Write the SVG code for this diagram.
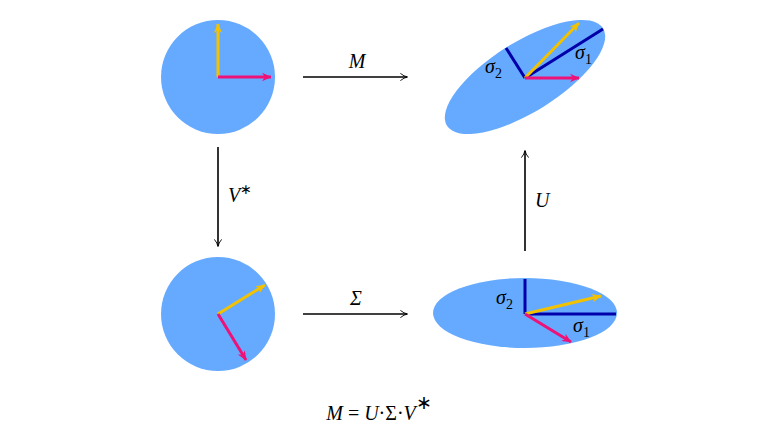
<svg xmlns="http://www.w3.org/2000/svg" width="758" height="427" viewBox="0 0 758 427">
<style>
.blob{fill:#66aaff}
.y{stroke:#f2c200;stroke-width:3;fill:none}
.m{stroke:#ee1177;stroke-width:3;fill:none}
.s{stroke:#0000aa;stroke-width:3;fill:none}
.c{stroke:#000;stroke-width:1.6;fill:none}
.t{font-family:"Liberation Serif",serif;font-style:italic;font-size:20px;fill:#000}
</style>
<defs>
<marker id="ay" viewBox="0 0 10 10" refX="9" refY="5" markerWidth="6" markerHeight="6" markerUnits="userSpaceOnUse" orient="auto" overflow="visible"><path d="M-6,-2 L10,5 L-6,12 L-1,5 Z" fill="#f2c200" transform="scale(1)"/></marker>
<marker id="am" viewBox="0 0 10 10" refX="9" refY="5" markerWidth="6" markerHeight="6" markerUnits="userSpaceOnUse" orient="auto" overflow="visible"><path d="M-6,-2 L10,5 L-6,12 L-1,5 Z" fill="#ee1177"/></marker>
<marker id="ak" viewBox="0 0 10 10" refX="9" refY="5" markerWidth="6" markerHeight="6" markerUnits="userSpaceOnUse" orient="auto" overflow="visible"><path d="M-2,-1 Q4,4 10,5 Q4,6 -2,11" fill="none" stroke="#000" stroke-width="1.5"/></marker>
</defs>
<g id="n-topleft">
<circle class="blob" cx="218" cy="77" r="57"/>
<line class="y" x1="218" y1="77" x2="218" y2="24" marker-end="url(#ay)"/>
<line class="m" x1="218" y1="77" x2="271" y2="77" marker-end="url(#am)"/>
</g>
<g id="n-bottomleft">
<circle class="blob" cx="218" cy="314" r="57"/>
<line class="y" x1="218" y1="314" x2="265" y2="285" marker-end="url(#ay)"/>
<line class="m" x1="218" y1="314" x2="246" y2="360" marker-end="url(#am)"/>
</g>
<g id="n-bottomright">
<ellipse class="blob" cx="525" cy="313" rx="92" ry="35"/>
<line class="s" x1="525" y1="314" x2="525" y2="279"/>
<line class="s" x1="525" y1="314" x2="616" y2="314"/>
<line class="y" x1="525" y1="314" x2="601" y2="296" marker-end="url(#ay)"/>
<line class="m" x1="525" y1="314" x2="571" y2="342" marker-end="url(#am)"/>
<text class="t" x="496" y="304">σ<tspan font-size="14" font-style="normal" dy="5">2</tspan></text>
<text class="t" x="573" y="332">σ<tspan font-size="14" font-style="normal" dy="5">1</tspan></text>
</g>
<g id="n-topright">
<ellipse class="blob" cx="525" cy="77" rx="92" ry="35" transform="rotate(-32 525 77)"/>
<line class="s" x1="525" y1="78" x2="603" y2="29"/>
<line class="s" x1="525" y1="78" x2="506" y2="48"/>
<line class="y" x1="525" y1="78" x2="579" y2="23" marker-end="url(#ay)"/>
<line class="m" x1="525" y1="78" x2="579" y2="78" marker-end="url(#am)"/>
<text class="t" x="485" y="73">σ<tspan font-size="14" font-style="normal" dy="5">2</tspan></text>
<text class="t" x="575" y="59">σ<tspan font-size="14" font-style="normal" dy="5">1</tspan></text>
</g>
<g id="connectors">
<line class="c" x1="303" y1="77" x2="407" y2="77" marker-end="url(#ak)"/>
<line class="c" x1="218" y1="147" x2="218" y2="246" marker-end="url(#ak)"/>
<line class="c" x1="303" y1="314" x2="407" y2="314" marker-end="url(#ak)"/>
<line class="c" x1="525" y1="251" x2="525" y2="151" marker-end="url(#ak)"/>
<text class="t" x="357" y="68" text-anchor="middle">M</text>
<text class="t" x="228" y="202">V<tspan font-size="14" font-style="normal" dy="-8">∗</tspan></text>
<text class="t" x="356" y="305" text-anchor="middle" font-style="normal">Σ</text>
<text class="t" x="535" y="207">U</text>
</g>
<text class="t" x="379" y="420" text-anchor="middle" font-size="28">M <tspan font-style="normal">=</tspan> U<tspan font-style="normal">·Σ·</tspan>V<tspan font-size="19" font-style="normal" dy="-11">∗</tspan></text>
</svg>
